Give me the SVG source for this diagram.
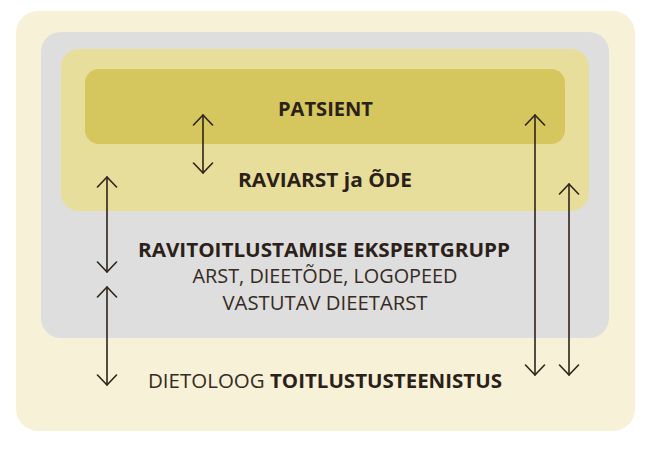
<svg xmlns="http://www.w3.org/2000/svg" width="652" height="459" viewBox="0 0 652 459">
<defs>
<style>
.t{font-family:"Open Sans","Liberation Sans",sans-serif;fill:#2b2119;text-anchor:middle;font-size:20px}
.b{font-weight:700}
.r{font-weight:400;fill:#352b22}
.c{stroke:#2e2419;stroke-width:1.6;fill:none;stroke-linecap:round;stroke-linejoin:round}
</style>
<marker id="ah" viewBox="0 0 12 22" refX="11" refY="11" markerWidth="12" markerHeight="22" markerUnits="userSpaceOnUse" orient="auto-start-reverse">
<path d="M1,1.5 L11,11 L1,20.5" fill="none" stroke="#2e2419" stroke-width="1.6" stroke-linecap="round" stroke-linejoin="round"/>
</marker>
</defs>
<rect width="652" height="459" fill="#ffffff"/>
<g id="toitlustusteenistus">
<rect x="16" y="11" width="619" height="420" rx="22" fill="#f7f1d7"/>
<text class="t" y="388" x="325" textLength="354" lengthAdjust="spacingAndGlyphs"><tspan class="r">DIETOLOOG </tspan><tspan class="b">TOITLUSTUSTEENISTUS</tspan></text>
</g>
<g id="ekspertgrupp">
<rect x="41" y="32" width="568" height="306" rx="20" fill="#dedede"/>
<text class="t b" x="324" y="257" textLength="372" lengthAdjust="spacingAndGlyphs">RAVITOITLUSTAMISE EKSPERTGRUPP</text>
<text class="t r" x="325" y="283" textLength="265" lengthAdjust="spacingAndGlyphs">ARST, DIEETÕDE, LOGOPEED</text>
<text class="t r" x="325" y="310" textLength="205" lengthAdjust="spacingAndGlyphs">VASTUTAV DIEETARST</text>
</g>
<g id="raviarst">
<rect x="61" y="49" width="528" height="162" rx="18" fill="#e8de9b"/>
<text class="t b" x="325" y="187" textLength="174" lengthAdjust="spacingAndGlyphs">RAVIARST ja ÕDE</text>
</g>
<g id="patsient">
<rect x="85" y="69" width="480" height="75" rx="14" fill="#d5c65e"/>
<text class="t b" x="325.5" y="116" textLength="95" lengthAdjust="spacingAndGlyphs">PATSIENT</text>
</g>
<g id="connectors" class="c">
<line x1="203" y1="115" x2="203" y2="173" marker-start="url(#ah)" marker-end="url(#ah)"/>
<line x1="107" y1="177" x2="107" y2="272" marker-start="url(#ah)" marker-end="url(#ah)"/>
<line x1="107" y1="287" x2="107" y2="385" marker-start="url(#ah)" marker-end="url(#ah)"/>
<line x1="535" y1="115" x2="535" y2="375" marker-start="url(#ah)" marker-end="url(#ah)"/>
<line x1="569" y1="184" x2="569" y2="375" marker-start="url(#ah)" marker-end="url(#ah)"/>
</g>
</svg>
